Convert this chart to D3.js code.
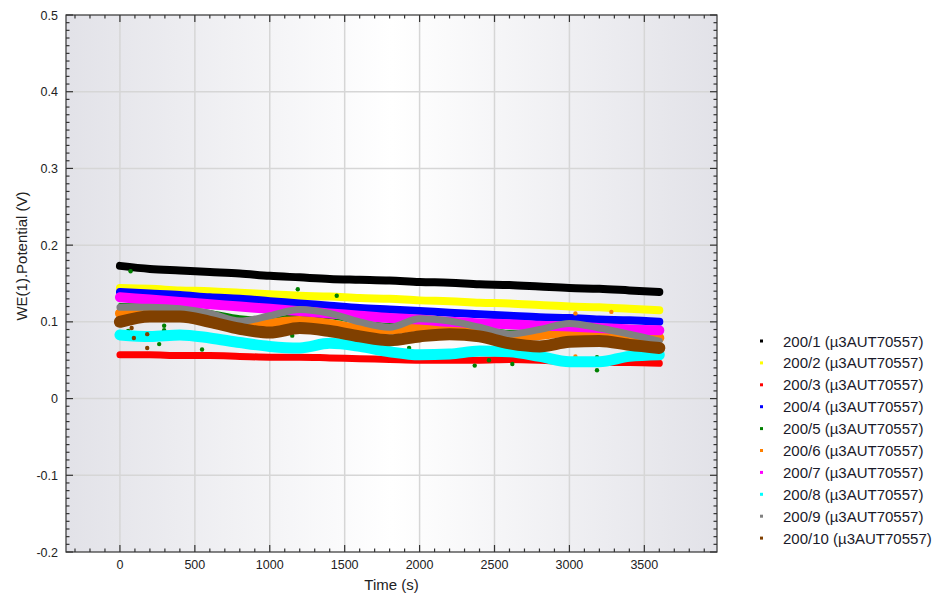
<!DOCTYPE html>
<html>
<head>
<meta charset="utf-8">
<script src="https://cdn.jsdelivr.net/npm/d3@7"></script>
<style>
  html, body { margin: 0; padding: 0; background: #fff; }
  svg { display: block; font-family: 'Liberation Sans', Arial, sans-serif; }
</style>
</head>
<body>
<svg id="chart"></svg>
<script>
// sample times (s)
const times = [0, 200, 400, 600, 800, 1000, 1200, 1400, 1600, 1800, 2000, 2200, 2400, 2600, 2800, 3000, 3200, 3400, 3600];

// potentials (V)
const s1 = [0.173, 0.169, 0.167, 0.165, 0.163, 0.160, 0.158, 0.156, 0.155, 0.154, 0.152, 0.151, 0.149, 0.148, 0.146, 0.144, 0.143, 0.141, 0.139];
const s2 = [0.144, 0.143, 0.141, 0.140, 0.138, 0.136, 0.134, 0.133, 0.131, 0.130, 0.128, 0.127, 0.125, 0.124, 0.122, 0.120, 0.119, 0.117, 0.115];
const s3 = [0.057, 0.057, 0.056, 0.056, 0.055, 0.054, 0.054, 0.053, 0.052, 0.051, 0.050, 0.050, 0.050, 0.051, 0.050, 0.048, 0.047, 0.047, 0.046];
const s4 = [0.139, 0.137, 0.135, 0.132, 0.130, 0.127, 0.124, 0.121, 0.118, 0.116, 0.114, 0.112, 0.110, 0.108, 0.106, 0.105, 0.103, 0.102, 0.100];
const s5 = [0.122, 0.121, 0.118, 0.113, 0.106, 0.104, 0.108, 0.106, 0.100, 0.096, 0.099, 0.098, 0.093, 0.087, 0.088, 0.093, 0.090, 0.085, 0.080];
const s6 = [0.111, 0.112, 0.111, 0.104, 0.094, 0.098, 0.101, 0.097, 0.091, 0.090, 0.094, 0.093, 0.089, 0.081, 0.083, 0.087, 0.086, 0.083, 0.079];
const s7 = [0.132, 0.129, 0.126, 0.123, 0.120, 0.117, 0.114, 0.111, 0.108, 0.105, 0.103, 0.100, 0.098, 0.097, 0.095, 0.094, 0.092, 0.090, 0.089];
const s8 = [0.083, 0.081, 0.083, 0.079, 0.073, 0.068, 0.066, 0.072, 0.068, 0.061, 0.057, 0.058, 0.062, 0.061, 0.055, 0.048, 0.048, 0.055, 0.057];
const s9 = [0.119, 0.119, 0.117, 0.111, 0.101, 0.108, 0.116, 0.111, 0.100, 0.093, 0.104, 0.101, 0.093, 0.084, 0.090, 0.098, 0.092, 0.084, 0.075];
const s10 = [0.100, 0.107, 0.107, 0.100, 0.091, 0.086, 0.092, 0.088, 0.081, 0.076, 0.081, 0.084, 0.081, 0.072, 0.068, 0.074, 0.075, 0.070, 0.066];

// stray points [time, potential]
const stray5 = [[71, 0.166], [55, 0.088], [295, 0.095], [295, 0.089], [262, 0.071], [548, 0.064], [1187, 0.1425], [1150, 0.082],
  [1447, 0.134], [1942, 0.097], [2368, 0.043], [2463, 0.050], [2619, 0.045], [3184, 0.054], [3184, 0.037], [1930, 0.066]];
const stray6 = [[3040, 0.111], [3280, 0.113], [3040, 0.055]];
const stray10 = [[93, 0.079], [78, 0.092], [182, 0.084], [182, 0.066]];

const seriesNames = ['200/1 (µ3AUT70557)', '200/2 (µ3AUT70557)', '200/3 (µ3AUT70557)', '200/4 (µ3AUT70557)', '200/5 (µ3AUT70557)',
  '200/6 (µ3AUT70557)', '200/7 (µ3AUT70557)', '200/8 (µ3AUT70557)', '200/9 (µ3AUT70557)', '200/10 (µ3AUT70557)'];
const seriesValues = [s1, s2, s3, s4, s5, s6, s7, s8, s9, s10];
const seriesStray = [[], [], [], [], stray5, stray6, [], [], [], stray10];

const xTicks = [0, 500, 1000, 1500, 2000, 2500, 3000, 3500];
const yTicks = [-0.2, -0.1, 0, 0.1, 0.2, 0.3, 0.4, 0.5];

const config = {
  width: 949,
  height: 594,
  left: 66,
  right: 717,
  top: 15,
  bottom: 552,
  colors: ['#000000', '#ffff00', '#ff0000', '#0000ff', '#008000', '#ff8000', '#ff00ff', '#00ffff', '#808080', '#804000'],
  bandWidth: [8, 8, 7, 8, 4, 10, 10, 11, 7, 12],
};

const c = config;
const svg = d3.select('#chart').attr('width', c.width).attr('height', c.height);

const x = d3.scaleLinear([-360, 3985], [c.left, c.right]);
const y = d3.scaleLinear([-0.2, 0.5], [c.bottom, c.top]);

// background gradient
const defs = svg.append('defs');
const grad = defs.append('linearGradient').attr('id', 'bg').attr('x1', '0%').attr('x2', '100%').attr('y1', '0%').attr('y2', '0%');
grad.append('stop').attr('offset', '0%').attr('stop-color', '#e2e2e8');
grad.append('stop').attr('offset', '50%').attr('stop-color', '#ffffff');
grad.append('stop').attr('offset', '100%').attr('stop-color', '#e2e2e8');
defs.append('clipPath').attr('id', 'plotclip')
  .append('rect').attr('x', c.left).attr('y', c.top).attr('width', c.right - c.left).attr('height', c.bottom - c.top);

svg.append('rect')
  .attr('x', c.left).attr('y', c.top)
  .attr('width', c.right - c.left).attr('height', c.bottom - c.top)
  .attr('fill', 'url(#bg)');

// grid
const grid = svg.append('g').attr('stroke', '#d6d6d6').attr('stroke-width', 1.5);
grid.selectAll('.vg').data(xTicks).join('line')
  .attr('x1', (d) => x(d)).attr('x2', (d) => x(d)).attr('y1', c.top).attr('y2', c.bottom);
grid.selectAll('.hg').data(yTicks.slice(1, -1)).join('line')
  .attr('y1', (d) => y(d)).attr('y2', (d) => y(d)).attr('x1', c.left).attr('x2', c.right);

// series bands
const plot = svg.append('g').attr('clip-path', 'url(#plotclip)');
const line = d3.line().curve(d3.curveMonotoneX).x((d) => x(d[0])).y((d) => y(d[1]));
seriesValues.forEach((vals, k) => {
  plot.append('path')
    .attr('fill', 'none')
    .attr('stroke', c.colors[k])
    .attr('stroke-width', c.bandWidth[k])
    .attr('stroke-linecap', 'round')
    .attr('stroke-linejoin', 'round')
    .attr('d', line(times.map((t, i) => [t, vals[i]])));
  plot.append('g').selectAll('circle').data(seriesStray[k]).join('circle')
    .attr('cx', (d) => x(d[0])).attr('cy', (d) => y(d[1])).attr('r', 2.2)
    .attr('fill', c.colors[k]);
});

// axes: ticks inward on all four sides
const axisG = svg.append('g');
const xMinor = d3.range(-300, 3985, 100);
const yMinor = d3.range(-200, 501, 10).map((v) => v / 1000);
const tickColor = '#333';
[[c.bottom, -1], [c.top, 1]].forEach(([yy, dir]) => {
  axisG.append('g').selectAll('line').data(xMinor).join('line')
    .attr('x1', (d) => x(d)).attr('x2', (d) => x(d))
    .attr('y1', yy).attr('y2', (d) => yy + dir * (d % 500 === 0 ? 7 : 3.5))
    .attr('stroke', tickColor).attr('stroke-width', 1.2);
});
[[c.left, 1], [c.right, -1]].forEach(([xx, dir]) => {
  axisG.append('g').selectAll('line').data(yMinor).join('line')
    .attr('y1', (d) => y(d)).attr('y2', (d) => y(d))
    .attr('x1', xx).attr('x2', (d) => xx + dir * (Math.round(d * 1000) % 100 === 0 ? 7 : 3.5))
    .attr('stroke', tickColor).attr('stroke-width', 1.2);
});
axisG.append('rect')
  .attr('x', c.left).attr('y', c.top)
  .attr('width', c.right - c.left).attr('height', c.bottom - c.top)
  .attr('fill', 'none').attr('stroke', '#333').attr('stroke-width', 1.2);

// tick labels
svg.append('g').selectAll('text').data(xTicks).join('text')
  .attr('x', (d) => x(d)).attr('y', 569)
  .attr('text-anchor', 'middle').attr('font-size', 12.5).attr('fill', '#222')
  .text((d) => d);
svg.append('g').selectAll('text').data(yTicks).join('text')
  .attr('x', 58).attr('y', (d) => y(d) + 4.5)
  .attr('text-anchor', 'end').attr('font-size', 12.5).attr('fill', '#222')
  .text((d) => (d === 0 ? '0' : d3.format('.1f')(d).replace('\u2212', '-')));

// axis titles
svg.append('text')
  .attr('x', (c.left + c.right) / 2).attr('y', 590)
  .attr('text-anchor', 'middle').attr('font-size', 15).attr('fill', '#222')
  .text('Time (s)');
svg.append('text')
  .attr('transform', 'translate(27,256) rotate(-90)')
  .attr('text-anchor', 'middle').attr('font-size', 15).attr('fill', '#222')
  .text('WE(1).Potential (V)');

// legend
const legend = svg.append('g').attr('transform', 'translate(760,341)');
const rows = legend.selectAll('g').data(seriesNames).join('g')
  .attr('transform', (_, i) => `translate(0,${i * 21.9})`);
rows.append('rect').attr('x', 0).attr('y', -1.5).attr('width', 3).attr('height', 3)
  .attr('fill', (_, i) => c.colors[i]);
rows.append('text').attr('x', 23).attr('y', 5.5)
  .attr('font-size', 15).attr('fill', '#1a1a2a')
  .text((d) => d);
</script>
</body>
</html>
